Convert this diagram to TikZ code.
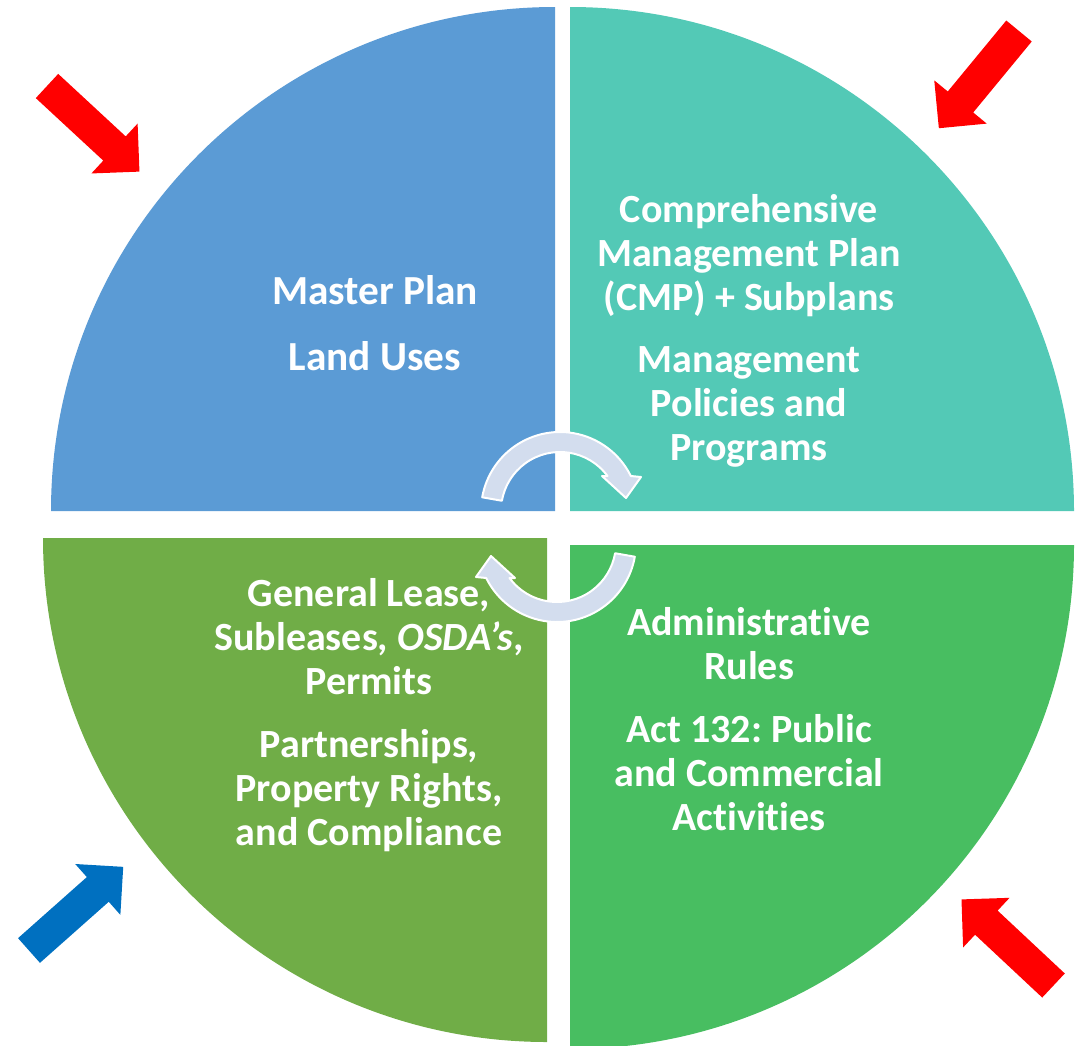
\documentclass[tikz,border=0pt]{standalone}
\usepackage{fontspec}
\setmainfont{Carlito}[Ligatures=NoCommon]
\frenchspacing
\definecolor{planblue}{HTML}{5B9BD5}
\definecolor{planteal}{HTML}{53C9B6}
\definecolor{planolive}{HTML}{70AD47}
\definecolor{plangreen}{HTML}{48BE61}
\definecolor{cyclefill}{HTML}{D3DDEE}
\definecolor{pushred}{HTML}{FF0000}
\definecolor{pushblue}{HTML}{0070C0}
\tikzset{
  label/.style={text=white, align=center, font=\bfseries\fontsize{30}{33}\selectfont},
  biglabel/.style={label, font=\bfseries\fontsize{31}{35}\selectfont},
  pics/blockarrow/.style={code={
    \fill[pic actions] (0,-16.5) -- (92,-16.5) -- (92,-34) -- (126,0) -- (92,34) -- (92,16.5) -- (0,16.5) -- cycle;
  }},
  pics/cyclearrow/.style={code={
    \draw[fill=cyclefill, draw=white, line width=1.5pt, line join=round]
      ([shift={(170:79)}]1.5,16) arc[start angle=170, end angle=26.3, radius=79]
      -- (82.5,50) -- (67.5,29) -- (43.5,51)
      -- ([shift={(36.4:59)}]1.5,16) arc[start angle=36.4, end angle=170, radius=59] -- cycle;
  }}
}
\begin{document}
\begin{tikzpicture}[x=0.75pt, y=0.75pt]
        \useasboundingbox (0,0) rectangle (1089,-1046);
        % quarters
        \fill[planblue] (555,-511) -- ++(180:504) arc[start angle=180, end angle=90, radius=504] -- cycle;
        \fill[planteal] (570,-511) -- ++(90:504) arc[start angle=90, end angle=0, radius=504] -- cycle;
        \fill[planolive] (547,-538) -- ++(180:504) arc[start angle=180, end angle=270, radius=504] -- cycle;
        \fill[plangreen] (570,-545) -- ++(270:504) arc[start angle=270, end angle=360, radius=504] -- cycle;
        % texts
        \node[biglabel] (master) at (375,-323) {Master Plan\\[14.5pt]Land Uses};
        \node[label] (cmp) at (749,-331) {Comprehensive\\Management Plan\\(CMP) + Subplans\\[14pt]Management\\Policies and\\Programs};
        \node[label] (lease) at (369,-715) {General Lease,\\Subleases, \textit{OSDA’s},\\Permits\\[14pt]Partnerships,\\Property Rights,\\and Compliance};
        \node[label] (rules) at (749,-719) {Administrative\\Rules\\[14pt]Act 132: Public\\and Commercial\\Activities};
        % cycle
        \pic at (558.5,-527) {cyclearrow};
        \pic[rotate=180] at (558.5,-527) {cyclearrow};
        % pressures
        \pic[fill=pushred, rotate=-42.8] at (47,-86) {blockarrow};
        \pic[fill=pushred, rotate=-129.5] at (1019,-31) {blockarrow};
        \pic[fill=pushblue, rotate=41.6] at (29,-950.5) {blockarrow};
        \pic[fill=pushred, rotate=136.9] at (1053.5,-985.5) {blockarrow};
    \end{tikzpicture}
\end{document}
